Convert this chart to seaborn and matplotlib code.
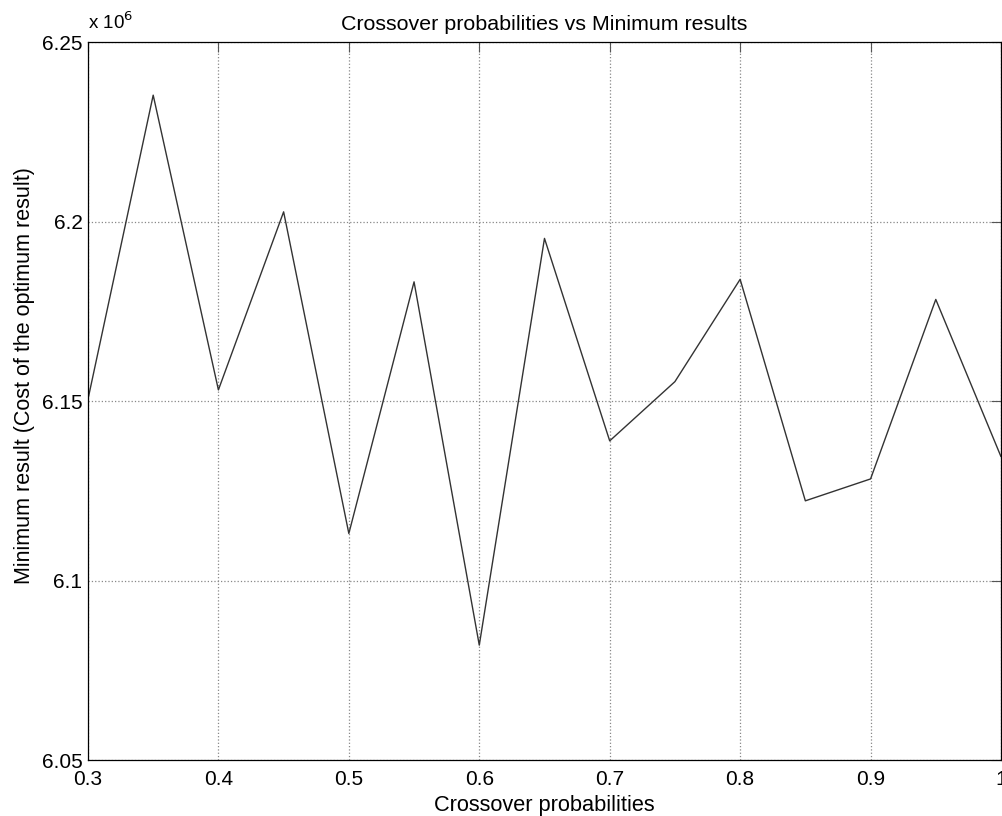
from matplotlib import pyplot as plt
import seaborn as sns
import pandas as pd
import numpy as np

# crossover probability vs minimum cost (in units of 1e6)
crossover = [0.30, 0.35, 0.40, 0.45, 0.50, 0.55, 0.60, 0.65, 0.70, 0.75, 0.80, 0.85, 0.90, 0.95, 1.00]
min_cost = [6.1505, 6.2352, 6.1531, 6.2027, 6.1131, 6.1832, 6.0820, 6.1953,
            6.1389, 6.1554, 6.1839, 6.1222, 6.1283, 6.1783, 6.1345]
x_ticks = [0.3, 0.4, 0.5, 0.6, 0.7, 0.8, 0.9, 1.0]
x_tick_labels = ["0.3", "0.4", "0.5", "0.6", "0.7", "0.8", "0.9", "1"]
y_ticks = [6.05, 6.1, 6.15, 6.2, 6.25]
y_tick_labels = ["6.05", "6.1", "6.15", "6.2", "6.25"]


def main():
    df = pd.DataFrame({"p": crossover, "cost": min_cost})

    sns.set_style("white")
    plt.rcParams["font.family"] = ["Liberation Sans", "DejaVu Sans"]
    plt.rcParams["text.color"] = "black"
    plt.rcParams["axes.labelcolor"] = "black"
    plt.rcParams["xtick.color"] = "black"
    plt.rcParams["ytick.color"] = "black"

    fig = plt.figure(figsize=(10.02, 8.16), dpi=100)
    ax = fig.add_axes([0.0878, 0.0686, 0.9112, 0.8799])
    sns.lineplot(data=df, x="p", y="cost", ax=ax, color="#333333", linewidth=1.0)

    ax.set_xlim(0.3, 1.0)
    ax.set_ylim(6.05, 6.25)
    ax.set_xticks(x_ticks)
    ax.set_xticklabels(x_tick_labels)
    ax.set_yticks(y_ticks)
    ax.set_yticklabels(y_tick_labels)
    ax.tick_params(direction="in", length=7, width=0.8, color="#555555",
                   labelcolor="black", labelsize=15, top=True, right=True)
    ax.tick_params(axis="x", pad=7.5)
    ax.tick_params(axis="y", pad=4)
    ax.grid(True, linestyle=":", color="#888888", linewidth=0.9)
    for s in ax.spines.values():
        s.set_color("black")
        s.set_linewidth(0.9)

    ax.set_xlabel("Crossover probabilities", fontsize=15.7, labelpad=4)
    ax.set_ylabel("Minimum result (Cost of the optimum result)", fontsize=15.5)
    ax.yaxis.set_label_coords(-0.058, 0.536)
    ax.set_title("Crossover probabilities vs Minimum results", fontsize=15.4, pad=9)
    ax.text(0.0, 1.012, r"x 10$^{6}$", transform=ax.transAxes, fontsize=13.5,
            ha="left", va="bottom")

    plt.savefig("out.png", dpi=100)


if __name__ == "__main__":
    main()
